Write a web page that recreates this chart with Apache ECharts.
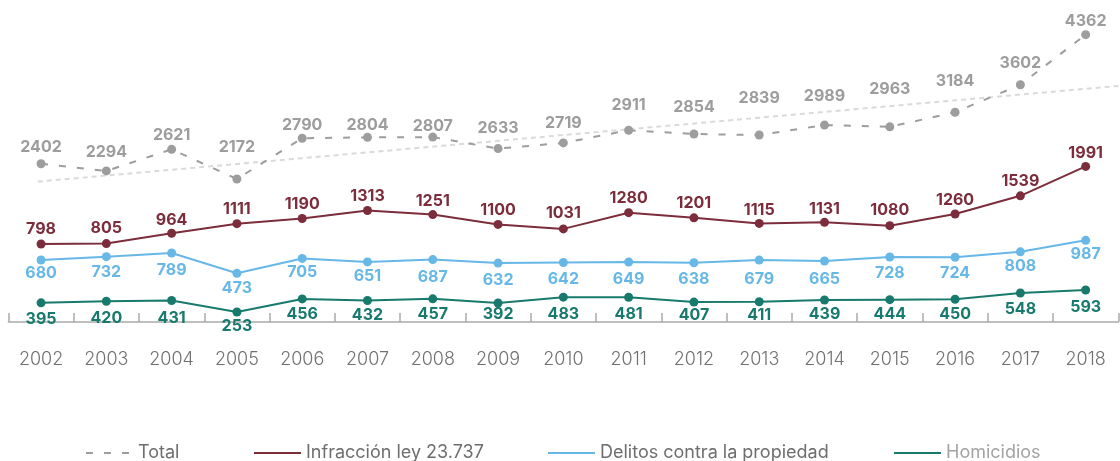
<!DOCTYPE html>
<html>
<head>
<meta charset="utf-8">
<title>Evolución 2002–2018</title>
<script src="https://cdn.jsdelivr.net/npm/echarts@6/dist/echarts.min.js"></script>
<style>
  html, body { margin: 0; padding: 0; background: #ffffff; }
  #chart { width: 1120px; height: 461px; }
</style>
</head>
<body>
<div id="chart"></div>
<script>
// Categories and yearly values
const years = ['2002','2003','2004','2005','2006','2007','2008','2009','2010','2011','2012','2013','2014','2015','2016','2017','2018'];
const total = [2402, 2294, 2621, 2172, 2790, 2804, 2807, 2633, 2719, 2911, 2854, 2839, 2989, 2963, 3184, 3602, 4362];
const infraccion = [798, 805, 964, 1111, 1190, 1313, 1251, 1100, 1031, 1280, 1201, 1115, 1131, 1080, 1260, 1539, 1991];
const delitos = [680, 732, 789, 473, 705, 651, 687, 632, 642, 649, 638, 679, 665, 728, 724, 808, 987];
const homicidios = [395, 420, 431, 253, 456, 432, 457, 392, 483, 481, 407, 411, 439, 444, 450, 548, 593];
// Trend of the total: [position along the years, value]
const totalTrend = [[-0.05, 2132], [16.5, 3584]];

// Label placement (pixels between a point and the centre of its value label)
const totalLabelLift = [16.4, 18.3, 14, 32, 13.3, 11.7, 11, 20, 20, 25, 27.3, 36.7, 28.6, 38, 30.6, 21.7, 13];
const infraccionLabelLift = [15.3, 15.3, 13.3, 14.3, 14, 14.3, 13.7, 14.3, 15.3, 14, 14.7, 13.7, 12.7, 16, 14, 15, 13.7];
const delitosLabelDrop = [13.3, 15.3, 17.3, 15.3, 13.7, 14.7, 17.7, 16.7, 16.7, 16.7, 16.7, 18.7, 18, 16, 16, 14.7, 14];
const homicidiosLabelDrop = [16, 16.7, 17.7, 14.5, 15.7, 14.4, 15, 11.5, 17.3, 17.3, 13.3, 13, 14.6, 14.6, 15.3, 16.7, 17.3];

const COLORS = {
  total: '#9d9d9d',
  trend: '#dadada',
  infraccion: '#7c2d3b',
  delitos: '#67b7e7',
  homicidios: '#177a6d'
};
const FONT = 'Inter, "Open Sans", Lato, sans-serif';

function withLabels(values, shifts, up) {
  return values.map((v, i) => ({
    value: v,
    label: { offset: [0, up ? -shifts[i] : shifts[i]] }
  }));
}

function pointSeries(name, values, shifts, up, color, yIndex, dashed) {
  return {
    name: name,
    type: 'line',
    xAxisIndex: 0,
    yAxisIndex: yIndex,
    data: withLabels(values, shifts, up),
    symbol: 'circle',
    symbolSize: 9,
    showSymbol: true,
    z: 3,
    itemStyle: { color: color },
    lineStyle: dashed
      ? { color: color, width: 2, type: [7, 11] }
      : { color: color, width: 2 },
    label: {
      show: true,
      position: 'inside',
      color: color,
      fontFamily: FONT,
      fontWeight: 700,
      fontSize: 16
    },
    emphasis: { disabled: true },
    animation: false
  };
}

function legendAt(name, left, textColor) {
  return {
    data: [name],
    left: left,
    top: 444,
    padding: 0,
    itemWidth: 47,
    itemHeight: 14,
    itemStyle: { opacity: 0 },
    selectedMode: false,
    textStyle: { color: textColor, fontFamily: FONT, fontSize: 18, fontWeight: 400 }
  };
}

const chart = echarts.init(document.getElementById('chart'), null, { renderer: 'canvas' });

chart.setOption({
  backgroundColor: '#ffffff',
  animation: false,
  grid: { left: 8.4, right: 1.7, top: 20, bottom: 124, containLabel: false },
  xAxis: [
    {
      type: 'category',
      data: years,
      boundaryGap: true,
      axisLine: { show: true, lineStyle: { color: '#ababab', width: 1.5 } },
      axisTick: { show: true, inside: true, length: 9, lineStyle: { color: '#ababab', width: 1.5 } },
      axisLabel: { color: '#717171', fontFamily: FONT, fontWeight: 300, fontSize: 18, margin: 14 },
      splitLine: { show: false }
    },
    {
      type: 'value',
      min: -0.5,
      max: 16.5,
      show: false
    }
  ],
  yAxis: [
    { type: 'value', min: -226, max: 4584, show: false, splitLine: { show: false } },
    { type: 'value', min: -630, max: 4240, show: false, splitLine: { show: false } },
    { type: 'value', min: -519, max: 4419, show: false, splitLine: { show: false } },
    { type: 'value', min: -133, max: 4767, show: false, splitLine: { show: false } }
  ],
  legend: [
    legendAt('Total', 85, '#6e6e6e'),
    legendAt('Infracción ley 23.737', 253, '#6e6e6e'),
    legendAt('Delitos contra la propiedad', 547, '#6e6e6e'),
    legendAt('Homicidios', 893, '#a3a3a3')
  ],
  series: [
    {
      name: 'Tendencia total',
      type: 'line',
      xAxisIndex: 1,
      yAxisIndex: 0,
      data: totalTrend,
      symbol: 'none',
      z: 1,
      lineStyle: { color: COLORS.trend, width: 2, type: [5, 4] },
      emphasis: { disabled: true },
      animation: false
    },
    pointSeries('Total', total, totalLabelLift, true, COLORS.total, 0, true),
    pointSeries('Infracción ley 23.737', infraccion, infraccionLabelLift, true, COLORS.infraccion, 1, false),
    pointSeries('Delitos contra la propiedad', delitos, delitosLabelDrop, false, COLORS.delitos, 2, false),
    pointSeries('Homicidios', homicidios, homicidiosLabelDrop, false, COLORS.homicidios, 3, false)
  ]
});
</script>
</body>
</html>
